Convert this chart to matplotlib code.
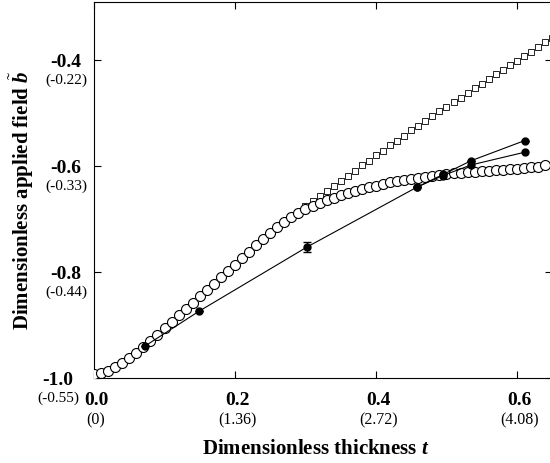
import matplotlib
matplotlib.use("Agg")
import matplotlib.pyplot as plt
import matplotlib.transforms as mtransforms

plt.rcParams['font.family'] = ['Liberation Serif', 'DejaVu Serif']
plt.rcParams['mathtext.fontset'] = 'custom'
plt.rcParams['mathtext.rm'] = 'Liberation Serif'
plt.rcParams['mathtext.it'] = 'Liberation Serif:italic:bold'
plt.rcParams['mathtext.bf'] = 'Liberation Serif:bold'

# open circles, t = 0.00 ... 0.64 step 0.01
circle_t = [round(0.01 * i, 2) for i in range(65)]
circle_b = [-0.992, -0.990, -0.986, -0.980, -0.972, -0.962, -0.952, -0.941, -0.930, -0.918,
            -0.906, -0.894, -0.882, -0.870, -0.858, -0.846, -0.834, -0.822, -0.810, -0.798,
            -0.786, -0.774, -0.762, -0.750, -0.738, -0.727, -0.716, -0.706, -0.697, -0.689,
            -0.682, -0.676, -0.670, -0.665, -0.660, -0.655, -0.651, -0.647, -0.643, -0.640,
            -0.637, -0.634, -0.631, -0.629, -0.626, -0.624, -0.622, -0.620, -0.618, -0.617,
            -0.615, -0.614, -0.613, -0.612, -0.611, -0.610, -0.609, -0.608, -0.607, -0.606,
            -0.605, -0.603, -0.602, -0.601, -0.599]

# open squares, t = 0.00 ... 0.65 step 0.01
square_t = [round(0.01 * i, 2) for i in range(66)]
square_b = circle_b[:28] + [
    -0.696, -0.686, -0.676, -0.666, -0.656, -0.647, -0.637, -0.628, -0.618, -0.609,
    -0.599, -0.590, -0.580, -0.571, -0.561, -0.552, -0.543, -0.533, -0.524, -0.515,
    -0.506, -0.497, -0.488, -0.480, -0.471, -0.462, -0.453, -0.445, -0.436, -0.427,
    -0.419, -0.410, -0.401, -0.393, -0.384, -0.376, -0.367, -0.358]

# filled circles (two branches)
exp_a_t = [0.072, 0.149, 0.302, 0.458, 0.495, 0.535, 0.611]
exp_a_b = [-0.940, -0.874, -0.753, -0.640, -0.616, -0.590, -0.552]
exp_a_err = [0, 0, 0.009, 0, 0, 0, 0]
exp_b_t = [0.458, 0.495, 0.535, 0.611]
exp_b_b = [-0.640, -0.618, -0.598, -0.574]

x_ticks = [0.0, 0.2, 0.4, 0.6]
x_sub = ['(0)', '(1.36)', '(2.72)', '(4.08)']
y_ticks = [-1.0, -0.8, -0.6, -0.4]
y_sub = ['(-0.55)', '(-0.44)', '(-0.33)', '(-0.22)']

fig = plt.figure(figsize=(5.5, 4.64), dpi=100)
ax = fig.add_axes([94 / 550, 85 / 464, 458.25 / 550, 376 / 464])

ax.plot(square_t, square_b, 's', ms=4.0, mfc='white', mec='black', mew=0.6, zorder=2)
ax.plot(circle_t, circle_b, 'o', ms=7.2, mfc='white', mec='black', mew=0.8, zorder=3)
ax.plot(exp_b_t, exp_b_b, '-o', color='black', ms=5, lw=0.8, zorder=4)
ax.errorbar(exp_a_t, exp_a_b, yerr=exp_a_err, fmt='-o', color='black', ms=5, lw=0.8,
            capsize=3, elinewidth=0.8, zorder=4)

ax.set_xlim(0, 0.65)
ax.set_ylim(-1.0, -0.2906)
ax.set_xticks(x_ticks)
ax.set_yticks(y_ticks)
ax.tick_params(direction='in', length=5, width=0.8, top=True, right=True,
               labelbottom=False, labelleft=False)
for s in ax.spines.values():
    s.set_linewidth(0.8)

# two-line tick labels
xt = mtransforms.blended_transform_factory(ax.transData, fig.transFigure)
for v, sub in zip(x_ticks, x_sub):
    ax.text(v + 0.003, 1 - 401 / 464, f'{v:.1f}', transform=xt, ha='center', va='center',
            fontsize=14, fontweight='bold')
    ax.text(v + 0.003, 1 - 420 / 464, sub, transform=xt, ha='center', va='center', fontsize=11.5)

yt = mtransforms.blended_transform_factory(fig.transFigure, ax.transData)
for v, sub in zip(y_ticks, y_sub):
    xc = 58 if v == -1.0 else 66
    ax.text(xc / 550, v - 0.003, f'{v:.1f}', transform=yt, ha='center', va='center',
            fontsize=14, fontweight='bold')
    ax.text(xc / 550, v - 0.037, sub, transform=yt, ha='center', va='center', fontsize=11)

fig.text(316 / 550, 1 - 449 / 464, r'Dimensionless thickness $t$', ha='center', va='center',
         fontsize=15, fontweight='bold')
fig.text(22 / 550, 1 - 200 / 464, r'Dimensionless applied field $\tilde{b}$', ha='center',
         va='center', rotation=90, fontsize=15, fontweight='bold')

fig.savefig('out.png', dpi=100)
